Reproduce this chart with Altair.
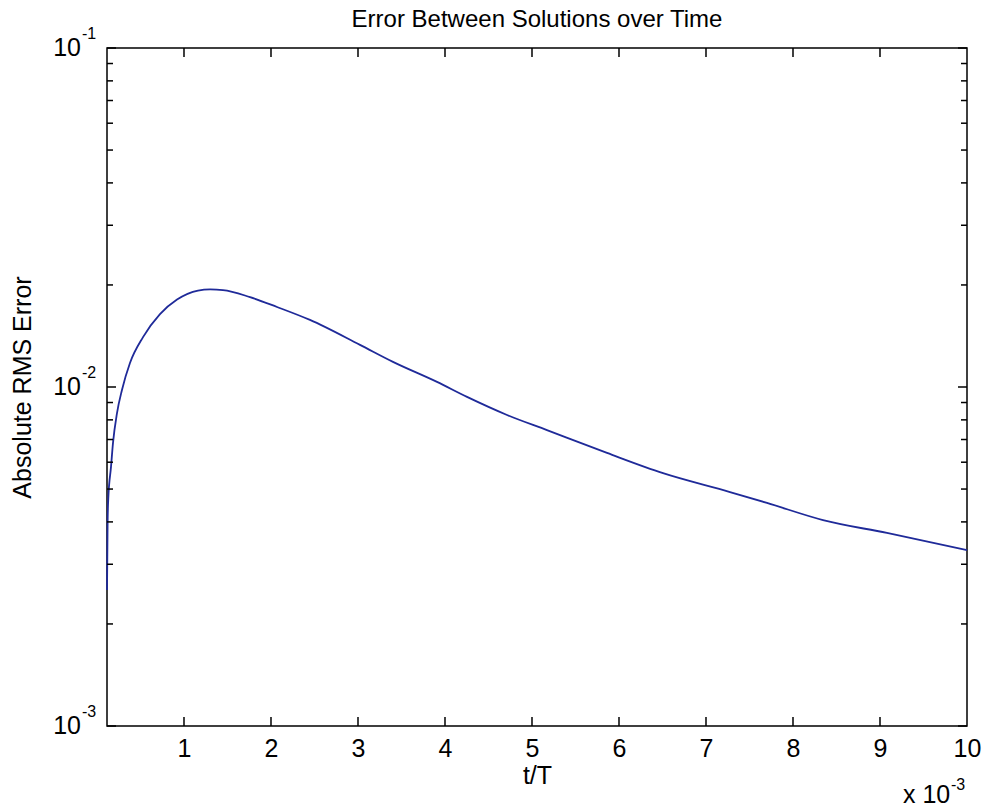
import altair as alt
import pandas as pd

# ---- data (t/T in units of 1e-3, absolute RMS error) ----
t_e3 = [0.115, 0.122, 0.13, 0.161, 0.184, 0.23, 0.287, 0.379, 0.529, 0.724,
        0.92, 1.161, 1.30, 1.448, 1.759, 2.069, 2.448, 3.023, 3.402, 3.908,
        4.253, 4.713, 5.172, 5.862, 6.506, 7.276, 7.701, 8.345, 9.080, 10.0]
rms = [0.00252, 0.0040, 0.00470, 0.00581, 0.00684, 0.00838, 0.00980, 0.01177,
       0.01403, 0.01640, 0.01811, 0.01925, 0.0194, 0.01932, 0.01841, 0.01722,
       0.01577, 0.01331, 0.01186, 0.01035, 0.00935, 0.00827, 0.00746, 0.00639,
       0.00557, 0.00490, 0.00455, 0.00405, 0.00371, 0.00330]

x_ticks = [1, 2, 3, 4, 5, 6, 7, 8, 9]
x_labels = [1, 2, 3, 4, 5, 6, 7, 8, 9, 10]
y_major = [0.001, 0.01, 0.1]
y_base = ["10", "10", "10"]
y_exp = ["-3", "-2", "-1"]
y_minor = [m * d for d in (0.001, 0.01) for m in range(2, 10)]

W, H = 860, 678
FONT = "Liberation Sans"
LINE_COLOR = "#1f2a99"
FS = 25
EXP_FS = 16

df = pd.DataFrame({"t": t_e3, "err": rms})
dfx = pd.DataFrame({"t": x_ticks})
dfy_major = pd.DataFrame({"err": y_major, "base": y_base, "exp": y_exp})
dfy_minor = pd.DataFrame({"err": y_minor})

xscale = alt.Scale(domain=[0.115, 10], nice=False, zero=False)
yscale = alt.Scale(type="log", domain=[0.001, 0.1], nice=False)

line = alt.Chart(df).mark_line(color=LINE_COLOR, strokeWidth=1.8,
                               interpolate="monotone").encode(
    x=alt.X("t:Q", scale=xscale,
            axis=alt.Axis(title="t/T", values=x_labels, format="d",
                          ticks=False, domain=False, grid=False,
                          labelFontSize=FS, labelFont=FONT, labelColor="black",
                          labelPadding=10, labelFlush=False,
                          titleFontSize=FS, titleFont=FONT, titleFontWeight="normal",
                          titleColor="black", titleY=57, titleBaseline="alphabetic")),
    y=alt.Y("err:Q", scale=yscale,
            axis=alt.Axis(title="Absolute RMS Error", values=y_major,
                          labels=False, ticks=False, domain=False, grid=False,
                          titleFontSize=FS, titleFont=FONT, titleFontWeight="normal",
                          titleColor="black", titleX=-85, titleBaseline="middle")),
)

rule = dict(color="black", strokeWidth=1.5)
xt_bottom = alt.Chart(dfx).mark_rule(**rule).encode(
    x="t:Q", y=alt.value(H), y2=alt.value(H - 9))
xt_top = alt.Chart(dfx).mark_rule(**rule).encode(
    x="t:Q", y=alt.value(0), y2=alt.value(9))
yl_major = alt.Chart(dfy_major).mark_rule(**rule).encode(
    y="err:Q", x=alt.value(0), x2=alt.value(9))
yr_major = alt.Chart(dfy_major).mark_rule(**rule).encode(
    y="err:Q", x=alt.value(W - 9), x2=alt.value(W))
yl_minor = alt.Chart(dfy_minor).mark_rule(**rule).encode(
    y="err:Q", x=alt.value(0), x2=alt.value(6))
yr_minor = alt.Chart(dfy_minor).mark_rule(**rule).encode(
    y="err:Q", x=alt.value(W - 6), x2=alt.value(W))

# y tick labels as 10 with raised exponent (MATLAB style)
ylab_base = alt.Chart(dfy_major).mark_text(
    font=FONT, fontSize=FS, color="black", align="right", baseline="middle"
).encode(y="err:Q", x=alt.value(-26), text="base:N")
ylab_exp = alt.Chart(dfy_major).mark_text(
    font=FONT, fontSize=EXP_FS, color="black", align="left", baseline="middle", dy=-14
).encode(y="err:Q", x=alt.value(-25), text="exp:N")

mult = pd.DataFrame({"base": ["x 10"], "exp": ["-3"]})
mult_base = alt.Chart(mult).mark_text(
    font=FONT, fontSize=FS, color="black", align="left", baseline="alphabetic"
).encode(text="base:N", x=alt.value(796), y=alt.value(755))
mult_exp = alt.Chart(mult).mark_text(
    font=FONT, fontSize=EXP_FS, color="black", align="left", baseline="alphabetic"
).encode(text="exp:N", x=alt.value(844), y=alt.value(742))

chart = alt.layer(
    line, xt_bottom, xt_top, yl_major, yr_major, yl_minor, yr_minor,
    ylab_base, ylab_exp, mult_base, mult_exp
).properties(
    width=W, height=H,
    title=alt.TitleParams("Error Between Solutions over Time", fontSize=24, font=FONT,
                          fontWeight="normal", color="black", anchor="middle",
                          frame="group", offset=0, dy=6),
    autosize=alt.AutoSizeParams(type="none"),
    padding={"left": 107, "top": 48, "right": 15, "bottom": 83},
    background="white",
).configure_view(stroke="black", strokeWidth=1.5)

chart.save("out.html", embed_options={"renderer": "svg", "actions": False})
